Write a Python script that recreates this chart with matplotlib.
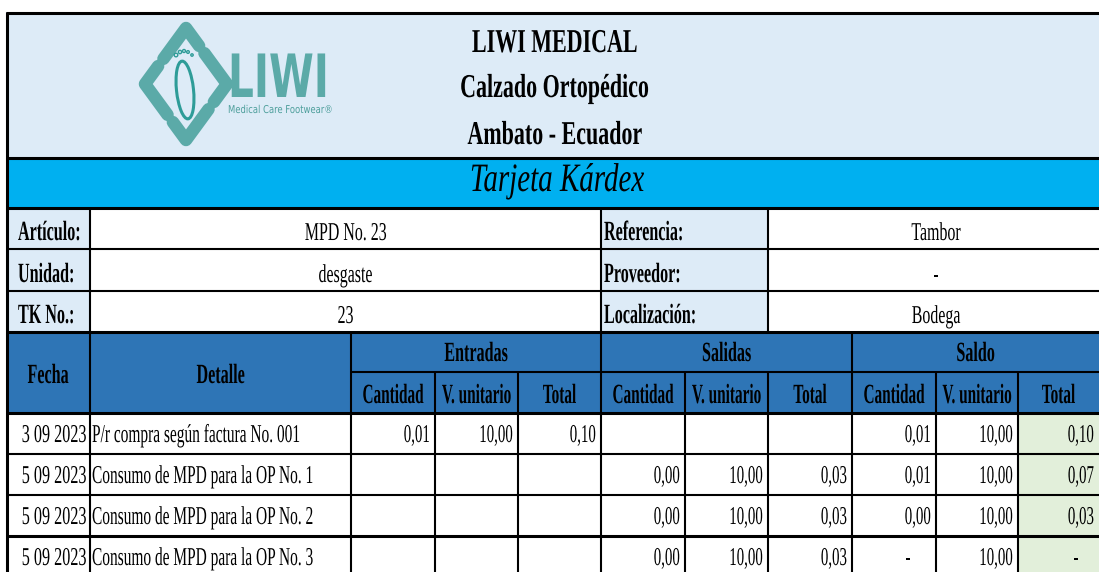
import matplotlib
matplotlib.use("Agg")
import matplotlib.pyplot as plt
from matplotlib.patches import Rectangle, Ellipse, Circle
from matplotlib.patheffects import AbstractPathEffect
from matplotlib.transforms import Affine2D

# ----- Datos de la tarjeta -----
titulo = ["LIWI MEDICAL", "Calzado Ortopédico", "Ambato - Ecuador"]
subtitulo = "Tarjeta Kárdex"

info_izq = ["Artículo:", "Unidad:", "TK No.:"]
info_izq_val = ["MPD No. 23", "desgaste", "23"]
info_der = ["Referencia:", "Proveedor:", "Localización:"]
info_der_val = ["Tambor", "-", "Bodega"]

grupos = ["Entradas", "Salidas", "Saldo"]
sub_cols = ["Cantidad", "V. unitario", "Total"]

fechas = ["3 09 2023", "5 09 2023", "5 09 2023", "5 09 2023"]
detalles = ["P/r compra según factura No. 001",
            "Consumo de MPD para la OP No. 1",
            "Consumo de MPD para la OP No. 2",
            "Consumo de MPD para la OP No. 3"]
ent_cant = [0.01, None, None, None]
ent_vu = [10.00, None, None, None]
ent_tot = [0.10, None, None, None]
sal_cant = [None, 0.003, 0.003, 0.003]
sal_vu = [None, 10.00, 10.00, 10.00]
sal_tot = [None, 0.03, 0.03, 0.03]
sdo_cant = [0.01, 0.007, 0.003, 0]
sdo_vu = [10.00, 10.00, 10.00, 10.00]
sdo_tot = [0.10, 0.07, 0.03, 0]

# ----- Layout (pixel) -----
W, H = 1099, 572
col_x = [6, 90, 351, 435, 518, 601, 685, 768, 852, 936, 1018, 1104]
row_y = [413, 454, 495, 536, 577]
info_y = [208, 249, 291, 332]

C_HEAD = "#DDEBF7"
C_CYAN = "#00B0F0"
C_BLUE = "#2E75B6"
C_GREEN = "#E2EFDA"
TEAL = "#5BAAA8"
SERIF = "Liberation Serif"


class Stretch(AbstractPathEffect):
    """Estira el texto en vertical desde la linea base (letra angosta tipo Excel)."""
    def __init__(self, sy):
        super().__init__()
        self.sy = sy

    def draw_path(self, renderer, gc, tpath, affine, rgbFace=None):
        by = affine.get_matrix()[1, 2]
        aff = affine + Affine2D().translate(0, -by).scale(1, self.sy).translate(0, by)
        renderer.draw_path(gc, tpath, aff, rgbFace)


fig = plt.figure(figsize=(W / 100, H / 100), dpi=100)
ax = fig.add_axes([0, 0, 1, 1])
ax.set_xlim(0, W)
ax.set_ylim(H, 0)
ax.axis("off")


def put(x, y, s, size, bold=False, ha="left", sx=0.6, color="black",
        family=SERIF, style="normal"):
    # ancho = size*sx, alto = size
    ax.text(x, y, s, fontsize=size * sx, fontweight="bold" if bold else "normal",
            ha=ha, va="baseline", family=family, style=style, color=color,
            path_effects=[Stretch(1 / sx)], zorder=4)


def rect(x0, y0, x1, y1, color):
    ax.add_patch(Rectangle((x0, y0), x1 - x0, y1 - y0, facecolor=color,
                           edgecolor="none", zorder=0))


def hline(y, x0, x1, lw=1.5):
    ax.plot([x0, x1], [y, y], color="black", lw=lw, solid_capstyle="butt", zorder=3)


def vline(x, y0, y1, lw=1.5):
    ax.plot([x, x], [y0, y1], color="black", lw=lw, solid_capstyle="butt", zorder=3)


def fmt(v):
    if v is None:
        return ""
    if v == 0:
        return "-"
    return f"{v:.2f}".replace(".", ",")


# ----- Fondos -----
rect(6, 12, W + 5, 158, C_HEAD)
rect(6, 158, W + 5, 208, C_CYAN)
for i in range(3):
    rect(6, info_y[i], 90, info_y[i + 1], C_HEAD)
    rect(601, info_y[i], 768, info_y[i + 1], C_HEAD)
rect(6, 332, W + 5, 413, C_BLUE)
rect(col_x[10], row_y[0], col_x[11], H, C_GREEN)

# ----- Logo -----
L, T, R, B = (145, 84), (186, 28), (227, 84), (186, 140)


def seg(p, q, t0, t1):
    return (p[0] + (q[0] - p[0]) * t0, p[1] + (q[1] - p[1]) * t0), \
           (p[0] + (q[0] - p[0]) * t1, p[1] + (q[1] - p[1]) * t1)


pieces = [(L, T, R), (T, R, B), (R, B, L), (B, L, T)]
for a, c, b in pieces:
    p0, _ = seg(a, c, 0.45, 1.0)
    _, p1 = seg(c, b, 0.0, 0.32)
    ax.plot([p0[0], c[0], p1[0]], [p0[1], c[1], p1[1]], color=TEAL, lw=9,
            solid_capstyle="round", solid_joinstyle="round", zorder=2)
ax.add_patch(Ellipse((185, 90), 17, 58, angle=-6, fill=False, edgecolor="#2E9C98",
                     lw=2.2, zorder=2))
for k, (tx, ty) in enumerate([(176, 55), (180, 52), (184, 51), (188, 52), (192, 55)]):
    ax.add_patch(Circle((tx, ty), 1.8 - 0.15 * k, fill=False, edgecolor="#2E9C98",
                        lw=1.0, zorder=2))
put(228, 97, "LIWI", 43, bold=True, sx=0.68, color=TEAL, family="DejaVu Sans")
put(228, 113, "Medical Care Footwear®", 7.8, sx=0.78, color="#4E9F9C",
    family="DejaVu Sans")

# ----- Encabezado -----
for y, s in zip([52, 97, 144], titulo):
    put(555, y, s, 24, bold=True, ha="center", sx=0.66)
put(557, 191, subtitulo, 29, ha="center", sx=0.72, style="italic")

# ----- Datos generales -----
for i in range(3):
    yb = info_y[i + 1] - 9
    put(18, yb, info_izq[i], 20, bold=True, sx=0.58)
    put(345.5, yb, info_izq_val[i], 18.5, ha="center", sx=0.62)
    put(604, yb, info_der[i], 20, bold=True, sx=0.58)
    put(936, yb, info_der_val[i], 18.5, ha="center", sx=0.62)

# ----- Cabecera de la tabla -----
put(48, 383, "Fecha", 20, bold=True, ha="center", sx=0.58)
put(220.5, 383, "Detalle", 20, bold=True, ha="center", sx=0.58)
for g, name in enumerate(grupos):
    x0, x1 = col_x[2 + 3 * g], col_x[5 + 3 * g]
    if g == 2:
        x1 = W
    put((x0 + x1) / 2, 361, name, 20, bold=True, ha="center", sx=0.58)
    for k, sub in enumerate(sub_cols):
        a, b = col_x[2 + 3 * g + k], min(col_x[3 + 3 * g + k], W)
        put((a + b) / 2, 403, sub, 20, bold=True, ha="center", sx=0.55)

# ----- Movimientos -----
series = [ent_cant, ent_vu, ent_tot, sal_cant, sal_vu, sal_tot,
          sdo_cant, sdo_vu, sdo_tot]
for r in range(len(fechas)):
    yb = row_y[r + 1] - 12
    put(86, yb, fechas[r], 18.5, ha="right", sx=0.63)
    put(92, yb, detalles[r], 18.5, sx=0.60)
    for c, vals in enumerate(series):
        s = fmt(vals[r])
        right = col_x[3 + c]
        if s == "-":
            put(right - 28, yb, s, 18.5, ha="center", sx=0.6)
        elif s:
            put(min(right, W) - 5, yb, s, 18.5, ha="right", sx=0.58)

# ----- Bordes -----
TH, MD = 2.2, 1.5
hline(12.5, 6, W, TH)
hline(158, 6, W, TH)
hline(208, 6, W, TH)
hline(249, 6, W, MD)
hline(291, 6, W, MD)
hline(332, 6, W, TH)
hline(372, col_x[2], W, MD)
hline(413, 6, W, TH)
hline(454, 6, W, MD)
hline(495, 6, W, MD)
hline(536, 6, W, TH)
vline(6.5, 12, H, TH)
vline(90, 208, H, MD)
vline(601, 208, H, MD)
vline(768, 208, 332, MD)
vline(col_x[2], 332, H, MD)
vline(col_x[8], 332, H, MD)
for k in [3, 4, 6, 7, 9, 10]:
    vline(col_x[k], 372, H, MD)

plt.savefig("out.png", dpi=100)
